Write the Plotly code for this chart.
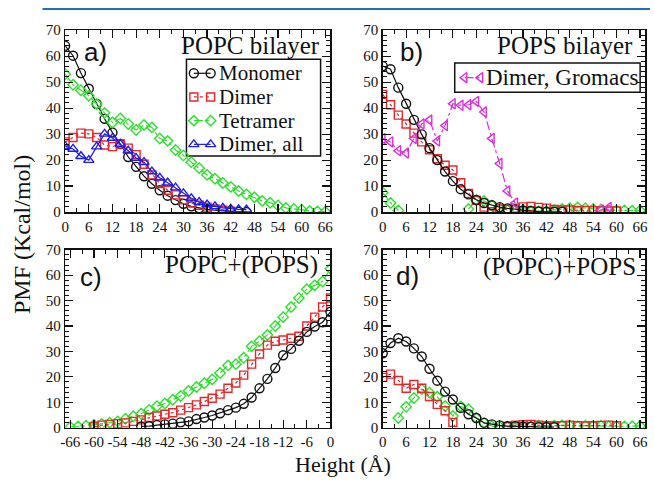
import plotly.graph_objects as go

# ---------------- data ----------------
A_X_MONO = list(range(0, 47, 2))
A_MONO = [64, 60.2, 53.5, 47.5, 41.6, 35.9, 30.6, 26.2, 21.2, 17.4, 13.8, 10.9, 8.4, 6.3,
          4.6, 3.2, 2.2, 1.5, 1.0, 0.7, 0.4, 0.2, 0.1, 0.0]
A_X_DIMER = list(range(0, 43, 2))
A_DIMER = [27.0, 28.7, 30.4, 30.1, 28.7, 25.8, 25.2, 26.2, 24.6, 22.1, 18.4, 14.3, 11.0, 8.4,
           6.6, 4.7, 3.5, 2.6, 1.9, 1.2, 0.7, 0.3]
A_X_TETRA = list(range(0, 67, 2))
A_TETRA = [53.1, 49.0, 46.9, 44.8, 41.6, 38.2, 34.5, 36.0, 33.9, 31.6, 33.5, 32.6, 28.3, 27.4,
           23.9, 21.8, 19.2, 16.9, 14.3, 12.8, 11.2, 9.7, 8.1, 6.8, 5.7, 4.3, 3.6, 2.5, 1.6,
           1.2, 0.9, 0.4, 0.2, 0.1]
A_X_DALL = list(range(0, 47, 2))
A_DALL = [25.4, 24.3, 21.5, 20.0, 25.2, 30.1, 28.5, 26.2, 23.6, 20.8, 19.2, 15.6, 13.2, 11.3,
          9.4, 7.2, 5.3, 3.8, 2.9, 2.2, 1.6, 1.2, 1.0, 0.9]

B_X_MONO = list(range(0, 47, 2))
B_MONO = [56.2, 55.0, 47.9, 41.7, 35.5, 29.9, 24.6, 20.0, 15.6, 11.9, 8.8, 6.8, 4.7, 3.5,
          2.6, 1.9, 1.4, 1.0, 0.6, 0.4, 0.2, 0.1, 0.1, 0.1]
B_X_DIMER = list(range(0, 61, 2))
B_DIMER = [45.3, 41.3, 37.3, 33.9, 30.4, 27.0, 24.0, 20.5, 18.0, 16.2, 11.3, 7.2, 4.5, 1.9,
           0.1, 1.2, 1.0, 1.5, 2.0, 2.2, 1.8, 1.5, 1.0, 0.8, 0.8, 0.6, 0.6, 0.5, 0.5, 0.4, 0.4]
B_X_TETRA = [0, 2, 4, None] + list(range(22, 67, 2))
B_TETRA = [7.5, 3.5, 0.6, None, 1.2, 4.5, 4.3, 2.5, 1.5, 0.8, 0.5, 0.3, 0.2, 0.3, 0.4, 0.8,
           1.2, 1.5, 1.8, 1.5, 1.2, 1.0, 0.8, 0.7, 0.6, 0.5, 0.6]
B_X_GRO = list(range(0, 35, 2)) + [None, 56, 58]
B_GRO = [28.3, 27.0, 23.6, 22.7, 28.3, 33.9, 35.4, 27.4, 33.3, 41.7, 41.1, 41.3, 42.6, 38.5,
         28.3, 18.7, 8.1, 3.5, None, 0.8, 1.8]

C_X_MONO = list(range(-48, 1, 2))
C_MONO = [0.5, 0.6, 1.0, 1.3, 1.6, 2.1, 2.5, 3.4, 4.0, 4.8, 5.7, 6.9, 7.9, 9.4, 11.9, 15.5,
          19.2, 23.5, 28.5, 31.0, 34.2, 37.7, 39.8, 41.5, 45.6]
C_X_DIMER = list(range(-60, 1, 2))
C_DIMER = [0.4, 1.0, 1.3, 1.6, 1.9, 2.5, 3.1, 4.0, 4.6, 5.3, 5.9, 6.9, 7.9, 9.0, 10.3, 11.6,
           13.2, 15.5, 17.6, 20.7, 25.0, 29.0, 32.5, 34.0, 34.5, 35.2, 36.0, 40.0, 43.5, 47.5, 51.0]
C_X_TETRA = list(range(-66, 1, 2))
C_TETRA = [0.3, 0.5, 0.8, 1.2, 1.5, 2.0, 2.5, 3.5, 4.5, 5.5, 7.0, 8.5, 9.5, 11.0, 12.5, 14.5,
           16.0, 17.5, 19.0, 21.5, 24.5, 25.0, 27.5, 32.0, 34.0, 36.5, 40.0, 43.5, 47.5, 51.0,
           54.5, 56.0, 57.5, 62.5]

D_X_MONO = list(range(0, 45, 2))
D_MONO = [29.3, 33.3, 35.2, 33.9, 31.2, 28.0, 23.2, 18.5, 14.2, 11.1, 7.8, 5.3, 3.8, 1.9, 1.3,
          0.9, 0.6, 0.6, 0.5, 0.4, 0.2, 0.2, 0.2]
D_X_DIMER = list(range(0, 21, 2)) + [None] + list(range(32, 61, 2))
D_DIMER = [19.8, 21.1, 18.6, 15.5, 17.0, 15.5, 12.3, 9.2, 6.7, 2.1, -4.0, None,
           0.5, 1.0, 1.2, 1.3, 1.0, 0.8, 0.7, 0.8, 1.0, 0.8, 0.7, 0.8, 0.9, 1.0, 0.8]
D_X_TETRA = list(range(4, 67, 2))
D_TETRA = [3.8, 8.2, 11.7, 15.1, 13.8, 12.2, 8.5, 4.6, 8.4, 7.3, 3.8, 1.9, 0.6, 0.4, 0.3, 0.2,
           0.3, 0.5, 0.8, 0.7, 0.9, 1.0, 0.8, 0.6, 0.8, 0.7, 0.8, 0.6, 0.5, 0.5, 0.6, 0.7]

POS_TICKS = list(range(0, 67, 6))
NEG_TICKS = list(range(-66, 1, 6))
NEG_LABELS = [str(v) for v in NEG_TICKS]
Y_TICKS = list(range(0, 71, 10))

LEGEND_A_NAMES = ["Monomer", "Dimer", "Tetramer", "Dimer, all"]
LEGEND_A_KEYS = ["mono", "dimer", "tetra", "dall"]
LEGEND_B_NAMES = ["Dimer, Gromacs"]
LEGEND_B_KEYS = ["gro"]

# ---------------- styles ----------------
SERIF = "Liberation Serif"
BLACK = "#111111"
RED = "#e8272a"
GREEN = "#2ee02e"
BLUE = "#1d1df0"
MAG = "#dd2ddd"

STY = {
    "mono": dict(color=BLACK, symbol="circle-open", size=9, dash="solid"),
    "dimer": dict(color=RED, symbol="square-open", size=8, dash="dot"),
    "tetra": dict(color=GREEN, symbol="diamond-open", size=8, dash="dashdot"),
    "dall": dict(color=BLUE, symbol="triangle-up-open", size=9, dash="solid"),
    "gro": dict(color=MAG, symbol="triangle-left-open", size=9, dash="dashdot"),
}

W, H = 654, 486

# legend box geometry in page pixels (layout, not data)
LEG_A = dict(box=(184, 53, 320, 153), glyph_x=(191.5, 208.5), text_x=216,
             rows=(67.5, 92, 116.5, 141), size=21)
LEG_B = dict(box=(456, 57, 644, 87), glyph_x=(466, 482), text_x=487,
             rows=(72,), size=23)

fig = go.Figure()


def style_kwargs(key):
    s = STY[key]
    return dict(line=dict(color=s["color"], width=1.2, dash=s["dash"]),
                marker=dict(symbol=s["symbol"], size=s["size"], color=s["color"],
                            line=dict(color=s["color"], width=1.4)))


def add(x, y, key, ax, name=None):
    fig.add_trace(go.Scatter(x=x, y=y, mode="lines+markers", name=name, showlegend=False,
                             xaxis="x" + ax, yaxis="y" + ax, **style_kwargs(key)))


add(A_X_MONO, A_MONO, "mono", "", "Monomer")
add(A_X_DIMER, A_DIMER, "dimer", "", "Dimer")
add(A_X_TETRA, A_TETRA, "tetra", "", "Tetramer")
add(A_X_DALL, A_DALL, "dall", "", "Dimer, all")

add(B_X_TETRA, B_TETRA, "tetra", "2")
add(B_X_DIMER, B_DIMER, "dimer", "2")
add(B_X_MONO, B_MONO, "mono", "2")
add(B_X_GRO, B_GRO, "gro", "2", "Dimer, Gromacs")

add(C_X_TETRA, C_TETRA, "tetra", "3")
add(C_X_DIMER, C_DIMER, "dimer", "3")
add(C_X_MONO, C_MONO, "mono", "3")

add(D_X_TETRA, D_TETRA, "tetra", "4")
add(D_X_DIMER, D_DIMER, "dimer", "4")
add(D_X_MONO, D_MONO, "mono", "4")


def px_x(p):
    return p / W


def px_y(p):
    return 1 - p / H


shapes = [dict(type="line", xref="paper", yref="paper", x0=px_x(38), x1=1,
               y0=px_y(1), y1=px_y(1), line=dict(color="#1f6fbf", width=2))]
annotations = []


def build_legend(spec, names, keys):
    x0, y0, x1, y1 = spec["box"]
    shapes.append(dict(type="rect", xref="paper", yref="paper", layer="below",
                       x0=px_x(x0), x1=px_x(x1), y0=px_y(y1), y1=px_y(y0),
                       fillcolor="white", line=dict(color=BLACK, width=1.5)))
    for name, key, ry in zip(names, keys, spec["rows"]):
        gx = list(spec["glyph_x"])
        fig.add_trace(go.Scatter(x=gx, y=[ry, ry], mode="lines+markers", showlegend=False,
                                 hoverinfo="skip", xaxis="x5", yaxis="y5",
                                 **style_kwargs(key)))
        annotations.append(dict(text=name, xref="paper", yref="paper",
                                x=px_x(spec["text_x"]), y=px_y(ry), xanchor="left",
                                yanchor="middle", showarrow=False, borderpad=0,
                                font=dict(family=SERIF, size=spec["size"], color=BLACK)))


build_legend(LEG_A, LEGEND_A_NAMES, LEGEND_A_KEYS)
build_legend(LEG_B, LEGEND_B_NAMES, LEGEND_B_KEYS)

col_dom = [[px_x(61), px_x(330)], [px_x(383), px_x(649)]]
row_dom = [[px_y(211), px_y(23)], [px_y(434), px_y(250)]]

tickfont = dict(family=SERIF, size=15, color=BLACK)


def xax(dom, rng, ticks, anchor, labels=None):
    d = dict(domain=dom, range=rng, tickvals=ticks, anchor=anchor, tickangle=0,
             showline=True, linecolor=BLACK, linewidth=1.5, mirror="ticks",
             ticks="inside", ticklen=8, tickwidth=1.2, tickcolor=BLACK,
             minor=dict(ticks="inside", ticklen=4, dtick=3, tickcolor=BLACK, tickwidth=1),
             showgrid=False, zeroline=False, tickfont=tickfont)
    if labels is not None:
        d["ticktext"] = labels
    return d


def yax(dom, anchor):
    return dict(domain=dom, range=[0, 70], tickvals=Y_TICKS, anchor=anchor,
                showline=True, linecolor=BLACK, linewidth=1.5, mirror="ticks",
                ticks="inside", ticklen=8, tickwidth=1.2, tickcolor=BLACK,
                minor=dict(ticks="inside", ticklen=4, dtick=2, tickcolor=BLACK, tickwidth=1),
                showgrid=False, zeroline=False, tickfont=tickfont)


fig.update_layout(
    width=W, height=H, autosize=False,
    margin=dict(l=0, r=0, t=0, b=0),
    paper_bgcolor="white", plot_bgcolor="rgba(0,0,0,0)",
    font=dict(family=SERIF, color=BLACK),
    showlegend=False,
    xaxis=xax(col_dom[0], [0, 67.3], POS_TICKS, "y"),
    yaxis=yax(row_dom[0], "x"),
    xaxis2=xax(col_dom[1], [0, 67.3], POS_TICKS, "y2"),
    yaxis2=yax(row_dom[0], "x2"),
    xaxis3=xax(col_dom[0], [-67.3, 0], NEG_TICKS, "y3", NEG_LABELS),
    yaxis3=yax(row_dom[1], "x3"),
    xaxis4=xax(col_dom[1], [0, 67.3], POS_TICKS, "y4"),
    yaxis4=yax(row_dom[1], "x4"),
    # overlay axes in page pixels, used only for the legend glyphs
    xaxis5=dict(domain=[0, 1], range=[0, W], visible=False, anchor="y5", fixedrange=True),
    yaxis5=dict(domain=[0, 1], range=[H, 0], visible=False, anchor="x5", fixedrange=True),
    shapes=shapes,
)

for a in annotations:
    fig.add_annotation(**a)

letters = [
    ("a)", "x domain", "y domain", 0.062, 0.975),
    ("b)", "x2 domain", "y2 domain", 0.06, 0.975),
    ("c)", "x3 domain", "y3 domain", 0.048, 0.94),
    ("d)", "x4 domain", "y4 domain", 0.042, 0.95),
]
for t, xr, yr, xx, yy in letters:
    fig.add_annotation(text=t, xref=xr, yref=yr, x=xx, y=yy, xanchor="left", yanchor="top",
                       showarrow=False, font=dict(family="Liberation Sans", size=26, color=BLACK))

# panel titles, vertically centred on the reference glyph centres
titles = [
    ("POPC bilayer", "x domain", "y domain", 0.965, (211 - 39) / 188),
    ("POPS bilayer", "x2 domain", "y2 domain", 0.958, (211 - 39) / 188),
    ("POPC+(POPS)", "x3 domain", "y3 domain", 0.958, (434 - 266) / 184),
    ("(POPC)+POPS", "x4 domain", "y4 domain", 0.968, (434 - 268) / 184),
]
for t, xr, yr, xx, yy in titles:
    fig.add_annotation(text=t, xref=xr, yref=yr, x=xx, y=yy, xanchor="right", yanchor="middle",
                       showarrow=False, borderpad=0,
                       font=dict(family=SERIF, size=25, color=BLACK))

fig.add_annotation(text="Height (Å)", xref="paper", yref="paper", x=px_x(343), y=px_y(472),
                   xanchor="center", yanchor="middle", showarrow=False, borderpad=0,
                   font=dict(family=SERIF, size=22, color=BLACK))
fig.add_annotation(text="PMF (Kcal/mol)", xref="paper", yref="paper", x=px_x(18), y=px_y(234),
                   xanchor="center", yanchor="middle", textangle=-90, showarrow=False,
                   font=dict(family=SERIF, size=24, color=BLACK))

fig.write_html(
    "out.html",
    config={"responsive": False, "displayModeBar": False, "staticPlot": True},
    post_script=(
        "document.documentElement.style.margin='0px';"
        "document.body.style.margin='0px';"
        "document.documentElement.style.overflow='hidden';"
        "document.body.style.overflow='hidden';"
        "var gd=document.getElementById('{plot_id}');"
        "gd.style.position='fixed';gd.style.top='0px';gd.style.left='0px';"
    ),
)
